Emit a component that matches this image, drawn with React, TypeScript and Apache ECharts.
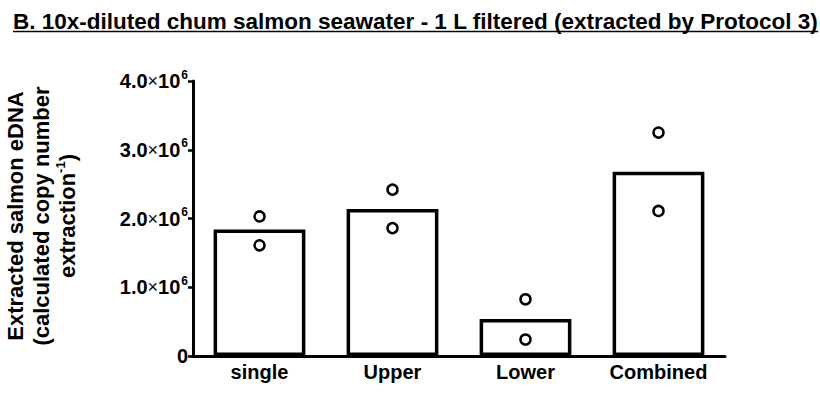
import React, { useEffect, useRef } from "react";
import * as echarts from "echarts";

const categories = ["single", "Upper", "Lower", "Combined"];
const barValues = [1.84e6, 2.14e6, 0.54e6, 2.68e6];
const pointsHigh = [2.03e6, 2.42e6, 0.825e6, 3.25e6];
const pointsLow = [1.61e6, 1.86e6, 0.24e6, 2.11e6];
const titleText = "B. 10x-diluted chum salmon seawater - 1 L filtered (extracted by Protocol 3)";
const FONT = "'Liberation Sans', Arial, sans-serif";

export default function App() {
  const ref = useRef<HTMLDivElement>(null);
  useEffect(() => {
    if (!ref.current) return;
    const chart = echarts.init(ref.current, undefined, { renderer: "svg" });
    const titleSize = 22.5;
    const titleX = 13;
    const titleY = 21;
    let titleW = 800;
    try {
      const c = document.createElement("canvas").getContext("2d");
      if (c) {
        c.font = `bold ${titleSize}px 'Liberation Sans', Arial, sans-serif`;
        titleW = c.measureText(titleText).width;
      }
    } catch (e) {}
    const scatterData: any[] = [];
    categories.forEach((c, i) => {
      scatterData.push([c, pointsHigh[i]]);
      scatterData.push([c, pointsLow[i]]);
    });
    chart.setOption({
      animation: false,
      backgroundColor: "#fff",
      grid: { left: 193, right: 95, top: 81, bottom: 41, containLabel: false },
      xAxis: {
        type: "category",
        data: categories,
        axisLine: { lineStyle: { color: "#000", width: 3 } },
        axisTick: { alignWithLabel: true, length: 5, lineStyle: { color: "#000", width: 2.5 } },
        axisLabel: { color: "#000", fontFamily: FONT, fontWeight: "bold", fontSize: 20, margin: 6 },
      },
      yAxis: {
        type: "value",
        min: 0,
        max: 4e6,
        interval: 1e6,
        splitLine: { show: false },
        axisLine: { show: true, lineStyle: { color: "#000", width: 3 } },
        axisTick: { show: true, length: 5, lineStyle: { color: "#000", width: 2.5 } },
        axisLabel: {
          margin: 5,
          formatter: (v: number) => {
            if (v === 0) return "{n|0}";
            const m = (v / 1e6).toFixed(1);
            return `{n|${m}}{x|×}{n|10}{s|6}`;
          },
          rich: {
            n: { color: "#000", fontFamily: FONT, fontWeight: "bold", fontSize: 20 },
            x: { color: "#000", fontFamily: FONT, fontSize: 18 },
            s: { color: "#000", fontFamily: FONT, fontWeight: "bold", fontSize: 12, verticalAlign: "top", padding: [0, 0, 13, 1] },
          },
        },
      },
      series: [
        {
          type: "bar",
          data: barValues,
          barCategoryGap: "31%",
          itemStyle: { color: "#fff", borderColor: "#000", borderWidth: 3.5 },
        },
        {
          type: "scatter",
          data: scatterData,
          symbol: "circle",
          symbolSize: 10,
          itemStyle: { color: "#fff", borderColor: "#000", borderWidth: 2.5, opacity: 1 },
          z: 3,
        },
      ],
      graphic: [
        {
          type: "text",
          x: titleX,
          y: titleY,
          style: {
            text: titleText,
            fontFamily: FONT,
            fontWeight: "bold",
            fontSize: titleSize,
            fill: "#000",
            verticalAlign: "middle",
          },
        },
        {
          type: "line",
          shape: { x1: titleX, y1: 31.5, x2: titleX + titleW, y2: 31.5 },
          style: { stroke: "#000", lineWidth: 1.5 },
        },
        {
          type: "text",
          x: 41,
          y: 216,
          rotation: Math.PI / 2,
          style: {
            text: "{a|Extracted salmon eDNA}\n{a|(calculated copy number}\n{a|extraction}{s|-1}{a|)}",
            align: "center",
            verticalAlign: "middle",
            rich: {
              a: { fontFamily: FONT, fontWeight: "bold", fontSize: 22, fill: "#000", lineHeight: 26 },
              s: { fontFamily: FONT, fontWeight: "bold", fontSize: 13, fill: "#000", lineHeight: 26, verticalAlign: "top", padding: [0, 0, 12, 0] },
            },
          },
        },
      ],
    });
    return () => chart.dispose();
  }, []);
  return <div ref={ref} style={{ position: "absolute", left: 0, top: 0, width: 820, height: 397 }} />;
}
